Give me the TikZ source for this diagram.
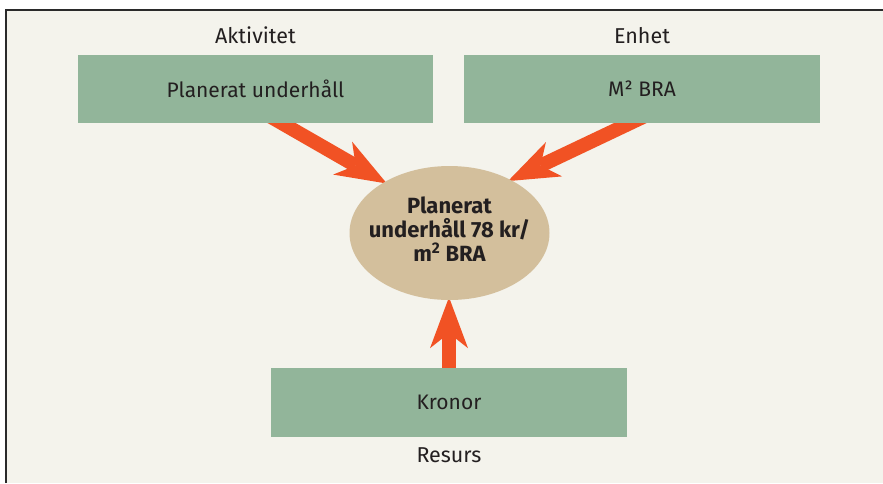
\documentclass[tikz,border=0pt]{standalone}
\usepackage{fontspec}
\setmainfont{Fira Sans}
\usetikzlibrary{shapes.geometric,arrows.meta,calc}
\definecolor{paper}{HTML}{F4F3EC}
\definecolor{boxgreen}{HTML}{92B59A}
\definecolor{oval}{HTML}{D3BF9C}
\definecolor{flow}{HTML}{F15224}
\definecolor{ink}{HTML}{231F20}
\definecolor{rule}{HTML}{2A2A2A}
\pgfdeclarelayer{page}
\pgfdeclarelayer{back}
\pgfsetlayers{page,back,main}
\tikzset{
  box/.style={rectangle, fill=boxgreen, minimum width=355pt, minimum height=68pt,
    inner sep=0pt, text=ink, font=\fontsize{21}{25}\selectfont},
  caption/.style={anchor=base, text=ink, inner sep=0pt, font=\fontsize{21.5}{25}\selectfont},
  hub/.style={ellipse, fill=oval, minimum width=200pt, minimum height=134pt, inner sep=0pt},
  hubtext/.style={align=center, text=ink, inner sep=0pt,
    font=\bfseries\fontsize{22}{24}\selectfont},
  bigarrow/.style={draw=flow, line width=14pt, shorten >=-3pt,
    -{Stealth[length=51pt, width=38pt, inset=15pt, line width=0pt]}}
}
\begin{document}
\begin{tikzpicture}[x=1pt,y=-1pt]
  \useasboundingbox (0,0) rectangle (883,483);

  % boxes
  \node[box] (b1) at (255.5,89) {Planerat underhåll};
  \node[box, minimum width=356pt] (b2) at (642,89) {M² BRA};
  \node[box, minimum width=356pt, minimum height=69pt] (b3) at (449,402.5) {Kronor};

  % captions
  \node[caption] (c1) at (255.5,43) {Aktivitet};
  \node[caption] (c2) at (642,43) {Enhet};
  \node[caption] (c3) at (449,462) {Resurs};

  % central oval and its text
  \node[hub] (el) at (449.5,233) {};
  \node[hubtext] (elt) at ([yshift=4pt]el.center) {Planerat\\underhåll 78 kr/\\m\textsuperscript{2} BRA};

  % page and framed panel, underneath everything
  \begin{pgfonlayer}{page}
    \fill[white] (0,0) rectangle (883,483);
    \fill[paper] (6,10) rectangle (883,483);
    \draw[rule, line width=1.5pt] (6,483) -- (6,10) -- (883,10);
  \end{pgfonlayer}

  % arrows, beneath the boxes so their tails start flush with the box edges
  \begin{pgfonlayer}{back}
    \draw[bigarrow] ([xshift=9pt,yshift=10pt]b1.south) -- (el.142);
    \draw[bigarrow] ([xshift=9pt,yshift=10pt]b2.south) -- (el.41);
    \draw[bigarrow] ([yshift=-10pt]b3.north) -- (b3.north |- el.south);
  \end{pgfonlayer}
\end{tikzpicture}
\end{document}
